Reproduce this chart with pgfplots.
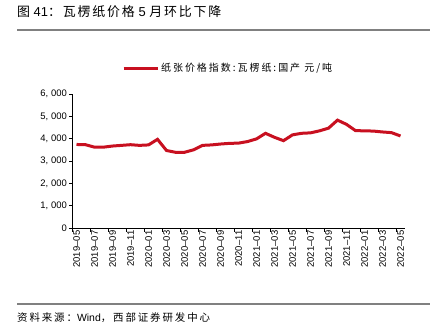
\documentclass[border=0pt]{standalone}
\usepackage{fontspec}
\setmainfont{Liberation Sans}
\newfontfamily\cjk{Noto Sans CJK SC}
\newfontfamily\cjkls{Noto Sans CJK SC}[LetterSpace=14]
\newfontfamily\cjksrc{Noto Sans CJK SC}[LetterSpace=18]
\usepackage{pgfplots}
\pgfplotsset{compat=1.18}
\definecolor{linered}{RGB}{200,16,32}
\definecolor{rulegray}{RGB}{128,128,128}
\begin{document}
\begin{tikzpicture}
\useasboundingbox (0bp,0bp) rectangle (438bp,330bp);
% title
\node[anchor=west,inner sep=0pt,font=\fontsize{13}{15}\selectfont] at (17bp,318bp) {{\cjkls 图} 41{\cjkls ：瓦楞纸价格} 5 {\cjkls 月环比下降}};
\draw[rulegray,line width=1.4bp] (17bp,300bp) -- (430bp,300bp);
\draw[rulegray,line width=1.4bp] (17bp,26bp) -- (430bp,26bp);
\node[anchor=west,inner sep=0pt,font=\fontsize{10.5}{12}\selectfont] at (17bp,12bp) {{\cjksrc 资料来源：}Wind{\cjksrc ，西部证券研发中心}};
\begin{axis}[
  at={(72bp,102bp)}, anchor=south west,
  scale only axis, width=333bp, height=134bp,
  xmin=-0.5, xmax=36.5, ymin=0, ymax=6000,
  axis x line*=bottom, axis y line*=left,
  axis line style={black,line width=0.8bp},
  xtick={0,2,...,36},
  xticklabels={2019–05,2019–07,2019–09,2019–11,2020–01,2020–03,2020–05,2020–07,2020–09,2020–11,2021–01,2021–03,2021–05,2021–07,2021–09,2021–11,2022–01,2022–03,2022–05},
  major x tick style={draw=none},
  minor xtick={-0.5,1.5,...,35.5},
  minor x tick style={black,line width=0.8bp},
  minor tick length=4bp,
  xticklabel style={rotate=90,anchor=east,font=\fontsize{9.5}{11}\selectfont,inner sep=1bp,xshift=1.5bp},
  ytick={0,1000,...,6000},
  yticklabels={0,{1, 000},{2, 000},{3, 000},{4, 000},{5, 000},{6, 000}},
  yticklabel style={font=\fontsize{9.5}{11}\selectfont,inner sep=2bp},
  y tick style={black,line width=0.8bp},
  major tick length=3bp,
  tick align=outside,
  legend style={at={(0.15,1.194)},anchor=west,draw=none,fill=none,inner sep=0pt,
     font=\fontsize{10}{12}\selectfont\cjk, legend cell align=left},
  legend image code/.code={\draw[linered,line width=3bp] (0bp,0bp) -- (34bp,0bp);},
]
\addplot[linered,line width=3bp] coordinates {
(0,3740)(1,3730)(2,3620)(3,3620)(4,3670)(5,3700)(6,3730)(7,3700)(8,3720)
(9,3970)(10,3470)(11,3390)(12,3390)(13,3500)(14,3700)(15,3720)(16,3760)
(17,3790)(18,3800)(19,3870)(20,3990)(21,4240)(22,4060)(23,3910)(24,4170)
(25,4240)(26,4260)(27,4350)(28,4470)(29,4830)(30,4640)(31,4360)(32,4350)
(33,4340)(34,4300)(35,4270)(36,4120)};
\addlegendentry{\addfontfeatures{LetterSpace=20}纸张价格指数:瓦楞纸:国产\ 元/吨}
\end{axis}
\end{tikzpicture}
\end{document}
